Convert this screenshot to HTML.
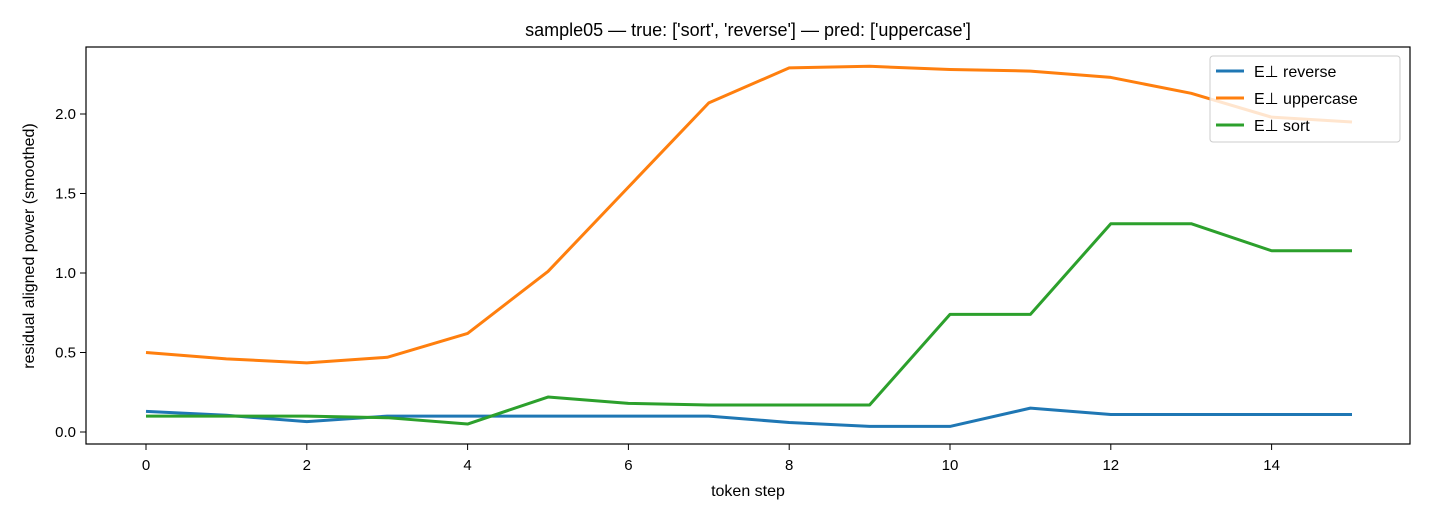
<!DOCTYPE html>
<html><head><meta charset="utf-8"><style>
body{margin:0;background:#fff;}
svg{font-family:"Liberation Sans","DejaVu Sans",sans-serif;}
</style></head><body>
<svg id="chart" width="1430" height="520">
<text x="748" y="36" font-size="18" text-anchor="middle">sample05 — true: ['sort', 'reverse'] — pred: ['uppercase']</text>
<rect x="86" y="47" width="1324" height="397" fill="none" stroke="#000" stroke-width="1.2"/>
<g id="xt"></g><g id="yt"></g><g id="lines"></g>
<text x="748" y="496" font-size="16" text-anchor="middle">token step</text>
<text transform="translate(34,246) rotate(-90)" font-size="16" text-anchor="middle">residual aligned power (smoothed)</text>
<g>
<rect x="1210" y="56" width="190" height="86" rx="3" fill="#fff" fill-opacity="0.8" stroke="#ccc"/>
<g><line x1="1216" y1="71" x2="1244" y2="71" stroke="#1f77b4" stroke-width="3"/><text x="1254" y="77" font-size="16">E⊥ reverse</text></g>
<g><line x1="1216" y1="98" x2="1244" y2="98" stroke="#ff7f0e" stroke-width="3"/><text x="1254" y="104" font-size="16">E⊥ uppercase</text></g>
<g><line x1="1216" y1="125" x2="1244" y2="125" stroke="#2ca02c" stroke-width="3"/><text x="1254" y="131" font-size="16">E⊥ sort</text></g>
</g>
</svg>
<script>
const steps=[0,1,2,3,4,5,6,7,8,9,10,11,12,13,14,15];
const reverseVals=[0.13,0.105,0.065,0.10,0.10,0.10,0.10,0.10,0.06,0.035,0.035,0.15,0.11,0.11,0.11,0.11];
const uppercaseVals=[0.50,0.46,0.435,0.47,0.62,1.01,1.54,2.07,2.29,2.30,2.28,2.27,2.23,2.13,1.98,1.95];
const sortVals=[0.10,0.10,0.10,0.09,0.05,0.22,0.18,0.17,0.17,0.17,0.74,0.74,1.31,1.31,1.14,1.14];
const xTicks=[0,2,4,6,8,10,12,14];
const yTicks=[0.0,0.5,1.0,1.5,2.0];
const NS="http://www.w3.org/2000/svg";
const xs=v=>146+v*80.4, ys=v=>432-v*159;
const xt=document.getElementById('xt'), yt=document.getElementById('yt'), lg=document.getElementById('lines');
xTicks.forEach(t=>{
 const l=document.createElementNS(NS,'line');l.setAttribute('x1',xs(t));l.setAttribute('x2',xs(t));l.setAttribute('y1',444);l.setAttribute('y2',450);l.setAttribute('stroke','#000');
 
 
 xt.appendChild(l);
 const s=document.createElementNS(NS,'text');s.setAttribute('x',xs(t));s.setAttribute('y',470);s.setAttribute('font-size','15');s.setAttribute('text-anchor','middle');s.textContent=t;
 
 
 xt.appendChild(s);
});
yTicks.forEach(t=>{
 const l=document.createElementNS(NS,'line');l.setAttribute('x1',80);l.setAttribute('x2',86);l.setAttribute('y1',ys(t));l.setAttribute('y2',ys(t));l.setAttribute('stroke','#000');
 
 
 yt.appendChild(l);
 const s=document.createElementNS(NS,'text');s.setAttribute('x',76);s.setAttribute('y',ys(t)+5);s.setAttribute('font-size','15');s.setAttribute('text-anchor','end');s.textContent=t.toFixed(1);
 
 
 yt.appendChild(s);
});
[[reverseVals,'#1f77b4','line-reverse'],[uppercaseVals,'#ff7f0e','line-uppercase'],[sortVals,'#2ca02c','line-sort']].forEach(([vals,c,n])=>{
 const p=document.createElementNS(NS,'polyline');
 p.setAttribute('points',steps.map((s,i)=>xs(s)+','+ys(vals[i])).join(' '));
 p.setAttribute('fill','none');p.setAttribute('stroke',c);p.setAttribute('stroke-width','3');p.setAttribute('stroke-linejoin','round');
 
 
 lg.appendChild(p);
});
</script>
</body></html>
